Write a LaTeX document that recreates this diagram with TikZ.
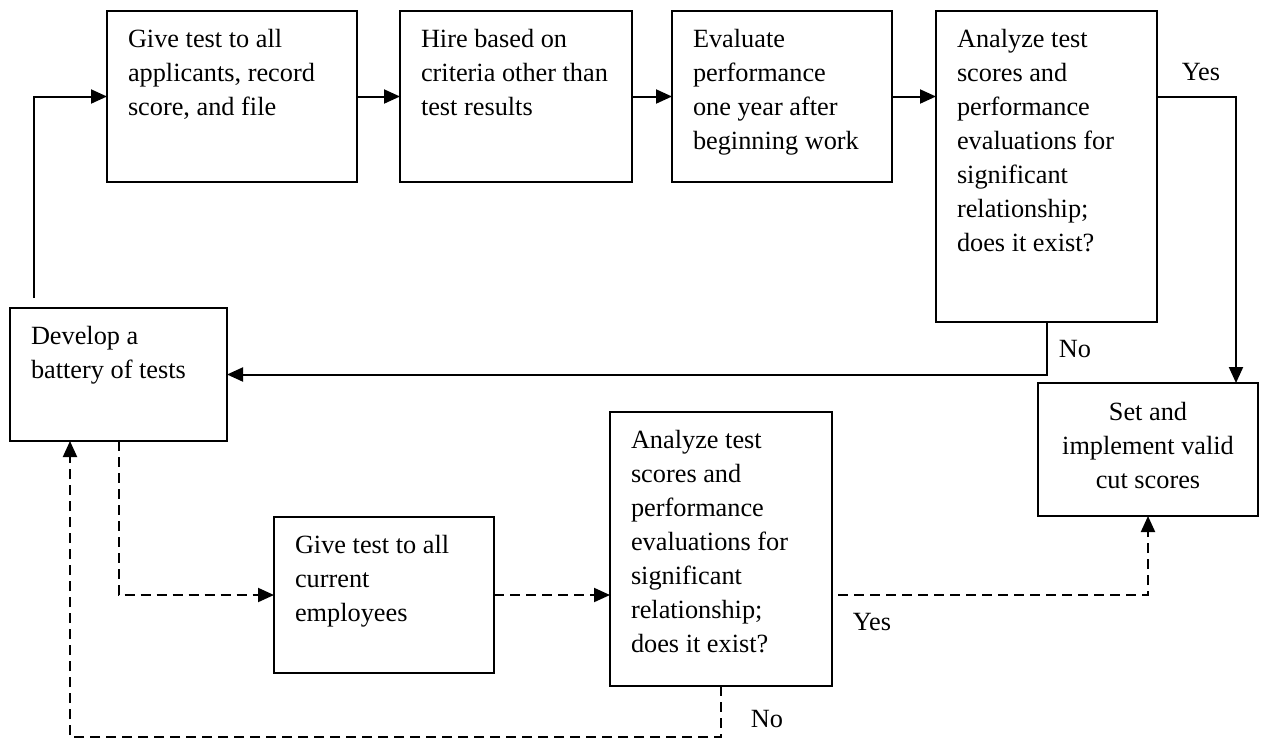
\documentclass[tikz,border=0pt]{standalone}
\usepackage{fontspec}
\setmainfont{Liberation Serif}
\usetikzlibrary{arrows.meta,calc}

% box contents: width, height, text (top-left aligned / centred)
\newcommand\lcell[3]{\parbox[c][#2pt][t]{\dimexpr#1pt-42pt\relax}{\raggedright\rule{0pt}{36pt}#3}}
\newcommand\ccell[3]{\parbox[c][#2pt][t]{\dimexpr#1pt-42pt\relax}{\centering\rule{0pt}{37pt}#3}}

\tikzset{
  stepbox/.style={draw, line width=2pt, inner xsep=21pt, inner ysep=0pt,
                  outer sep=0pt, anchor=north west},
  flow/.style={line width=2pt, -{Triangle[length=16pt,width=14pt]}},
  dflow/.style={flow, dash pattern=on 10pt off 6pt},
  lbl/.style={inner sep=0pt},
}

\begin{document}
\begin{tikzpicture}[x=1pt, y=-1pt, font=\fontsize{26.3}{34}\selectfont]
\useasboundingbox (0,0) rectangle (1261,740);

% process boxes
\node[stepbox] (give1) at (107,11)  {\lcell{250}{171}{Give test to all\\applicants, record\\score, and file}};
\node[stepbox] (hire)  at (400,11)  {\lcell{232}{171}{Hire based on\\criteria other than\\test results}};
\node[stepbox] (eval)  at (672,11)  {\lcell{220}{171}{Evaluate\\performance\\one year after\\beginning work}};
\node[stepbox] (ana1)  at (936,11)  {\lcell{221}{311}{Analyze test\\scores and\\performance\\evaluations for\\significant\\relationship;\\does it exist?}};
\node[stepbox] (dev)   at (10,308)  {\lcell{217}{133}{Develop a\\battery of tests}};
\node[stepbox] (cut)   at (1038,383){\ccell{220}{133}{Set and\\implement valid\\cut scores}};
\node[stepbox] (emp)   at (274,517) {\lcell{220}{156}{Give test to all\\current\\employees}};
\node[stepbox] (ana2)  at (610,412) {\lcell{222}{274}{Analyze test\\scores and\\performance\\evaluations for\\significant\\relationship;\\does it exist?}};

% helper points for free line ends
\coordinate (devtop) at (34,298);
\coordinate (yes1) at ($(ana1.east |- give1.east)+(1,0)$);
\coordinate (yes2) at ($(ana2.east |- emp.east)+(6,0)$);
\coordinate (nob)  at (70,737);

% applicant route (solid)
\draw[flow] (devtop) |- (give1.west);
\draw[flow] (give1.east) -- (hire.west);
\draw[flow] (hire.east) -- (eval.west);
\draw[flow] (eval.east) -- (eval.east -| ana1.west);
\draw[flow] (yes1) -| ([xshift=88pt]cut.north);
\draw[flow] (ana1.south) |- (dev.east);
\node[lbl] (lyes1) at (1201,72) {Yes};
\node[lbl] (lno1)  at (1075,349) {No};

% employee route (dashed)
\draw[dflow] (dev.south) |- (emp.west);
\draw[dflow] (emp.east) -- (emp.east -| ana2.west);
\draw[dflow] (yes2) -| (cut.south);
\draw[dflow] (ana2.south) -- (ana2.south |- nob) -- (nob) -- (nob |- dev.south);
\node[lbl] (lyes2) at (872,622) {Yes};
\node[lbl] (lno2)  at (767,719) {No};
\end{tikzpicture}
\end{document}
